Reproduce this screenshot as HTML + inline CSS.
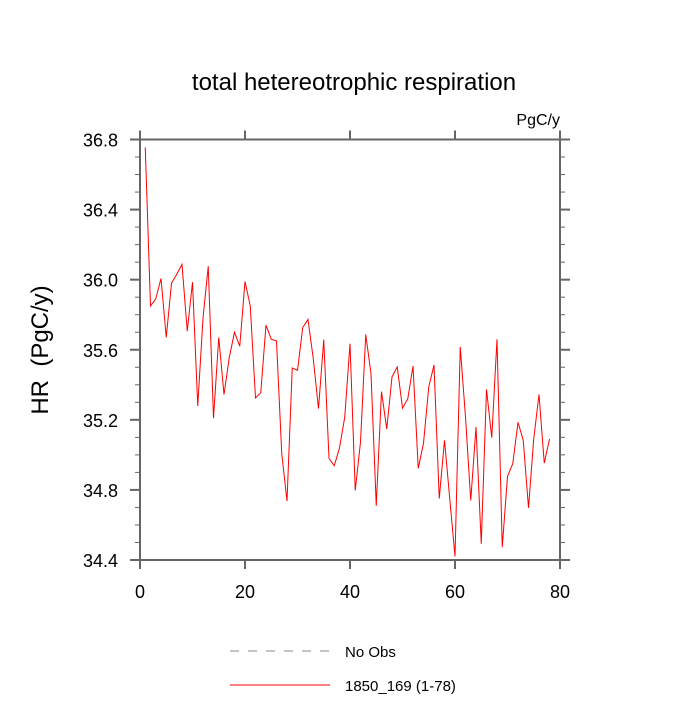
<!DOCTYPE html>
<html><head><meta charset="utf-8"><style>
body{margin:0;background:#fff;}
svg text{font-family:"Liberation Sans",sans-serif;}
</style></head><body>
<svg id="chart" width="700" height="700">
<text x="354" y="90" font-size="24" text-anchor="middle">total hetereotrophic respiration</text>
<text x="560" y="125" font-size="16" text-anchor="end">PgC/y</text>
<text transform="translate(48,350) rotate(-90)" font-size="24" text-anchor="middle">HR&#160;&#160;(PgC/y)</text>
<g id="axes"></g>
<polyline id="series" fill="none" stroke="#ff0000" stroke-width="1"/>
<line x1="230" y1="651" x2="330" y2="651" stroke="#888" stroke-dasharray="9,9"/>
<text x="345" y="657" font-size="15">No Obs</text>
<line x1="230" y1="685" x2="330" y2="685" stroke="#ff0000"/>
<text x="345" y="691" font-size="15">1850_169 (1-78)</text>
</svg>
<script>
const years=[1,2,3,4,5,6,7,8,9,10,11,12,13,14,15,16,17,18,19,20,21,22,23,24,25,26,27,28,29,30,31,32,33,34,35,36,37,38,39,40,41,42,43,44,45,46,47,48,49,50,51,52,53,54,55,56,57,58,59,60,61,62,63,64,65,66,67,68,69,70,71,72,73,74,75,76,77,78];
const hrValues=[36.755,35.85,35.89,36.007,35.67,35.98,36.03,36.087,35.706,35.986,35.279,35.78,36.077,35.21,35.67,35.344,35.555,35.70,35.62,35.99,35.85,35.325,35.355,35.74,35.66,35.65,35.007,34.736,35.496,35.483,35.727,35.773,35.55,35.264,35.658,34.98,34.938,35.04,35.216,35.635,34.797,35.073,35.687,35.464,34.71,35.361,35.148,35.445,35.502,35.267,35.319,35.507,34.923,35.067,35.387,35.513,34.751,35.083,34.75,34.42,35.616,35.216,34.74,35.159,34.493,35.374,35.098,35.66,34.473,34.877,34.95,35.186,35.083,34.698,35.092,35.345,34.953,35.091];
const xTicks=[0,20,40,60,80];
const yTicks=[34.4,34.8,35.2,35.6,36.0,36.4,36.8];
const L=140,R=560,T=139.5,B=560,xMin=0,xMax=80,yMin=34.4,yMax=36.8;
const sx=v=>L+(v-xMin)/(xMax-xMin)*(R-L);
const sy=v=>B-(v-yMin)/(yMax-yMin)*(B-T);
const NS="http://www.w3.org/2000/svg";
const g=document.getElementById('axes');
function ln(x1,y1,x2,y2,w,name){const l=document.createElementNS(NS,'line');l.setAttribute('x1',x1);l.setAttribute('y1',y1);l.setAttribute('x2',x2);l.setAttribute('y2',y2);l.setAttribute('stroke','#666');l.setAttribute('stroke-width',w);


g.appendChild(l);}
function tx(x,y,s,anchor,name){const t=document.createElementNS(NS,'text');t.setAttribute('x',x);t.setAttribute('y',y);t.setAttribute('font-size','18');t.setAttribute('text-anchor',anchor);t.textContent=s;


g.appendChild(t);}
ln(L,T,R,T,2,'plot-frame-top');ln(L,B,R,B,2,'plot-frame-bottom');ln(L,T,L,B,2,'plot-frame-left');ln(R,T,R,B,2,'plot-frame-right');
xTicks.forEach(v=>{const x=sx(v);ln(x,B,x,B+9,2,'x-tick');ln(x,T,x,T-9,2,'x-tick-top');tx(x,B+38,String(v),'middle','x-tick-label');});
yTicks.forEach(v=>{const y=sy(v);ln(L,y,L-10,y,2,'y-tick');ln(R,y,R+10,y,2,'y-tick-right');tx(L-22,y+7,v.toFixed(1),'end','y-tick-label');});
for(let v=yMin+0.1;v<yMax-0.01;v+=0.1){const y=sy(v);ln(L,y,L-5,y,1,'y-minor-tick');ln(R,y,R+5,y,1,'y-minor-tick-right');}
document.getElementById('series').setAttribute('points',years.map((yr,i)=>sx(yr)+','+sy(hrValues[i])).join(' '));
</script>
</body></html>
